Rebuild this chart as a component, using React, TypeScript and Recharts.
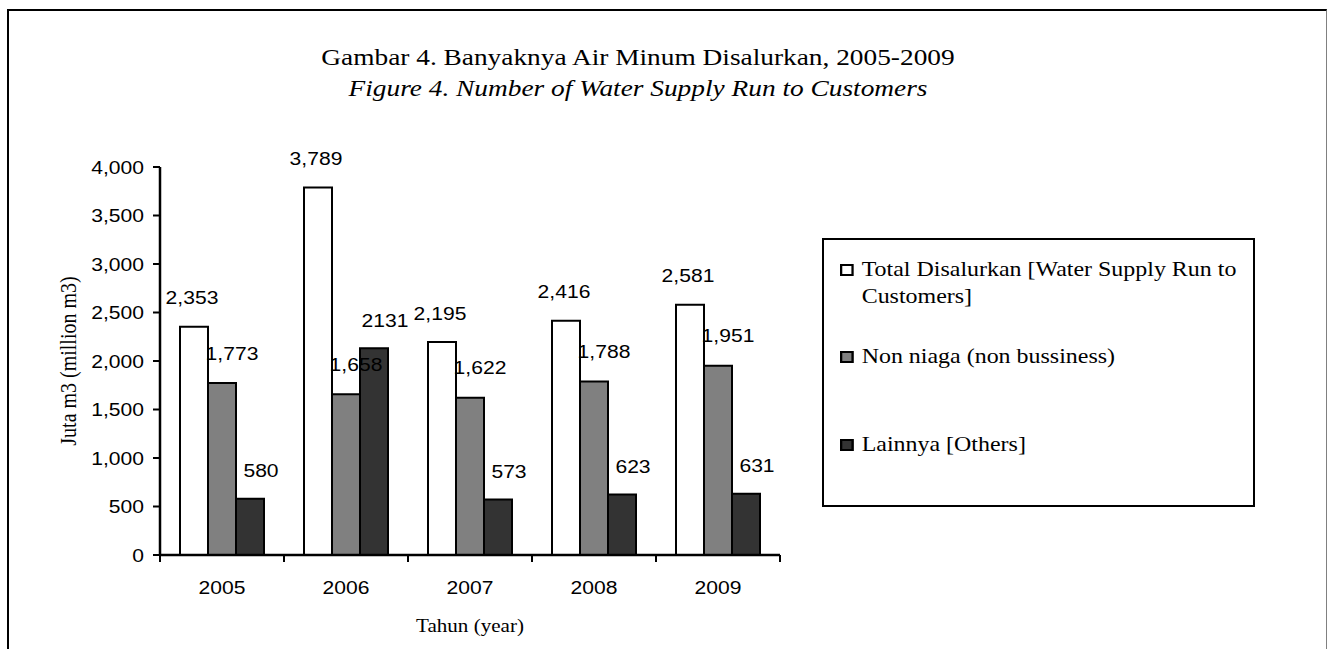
import React from 'react';
import { BarChart, Bar, XAxis, YAxis, Legend, LabelList } from 'recharts';

// ---- data ----
const years = ['2005', '2006', '2007', '2008', '2009'];
const totalSupply = [2353, 3789, 2195, 2416, 2581];
const nonBusiness = [1773, 1658, 1622, 1788, 1951];
const others = [580, 2131, 573, 623, 631];
const othersLabelText = ['580', '2131', '573', '623', '631'];
const yTicks = [0, 500, 1000, 1500, 2000, 2500, 3000, 3500, 4000];
const seriesNames = [
  'Total Disalurkan [Water Supply Run to Customers]',
  'Non niaga (non bussiness)',
  'Lainnya [Others]',
];
const titleLine1 = 'Gambar 4. Banyaknya Air Minum Disalurkan, 2005-2009';
const titleLine2 = 'Figure 4. Number of Water Supply Run to Customers';
const yAxisTitle = 'Juta m3 (million m3)';
const xAxisTitle = 'Tahun (year)';

// ---- styles ----
const SERIF = '"Liberation Serif", "Times New Roman", serif';
const SANS = '"Liberation Sans", Arial, sans-serif';
const SX = 1.14; // horizontal stretch of the reference's lettering
const FILLS = ['#ffffff', '#808080', '#333333'];
const PLOT_W = 620;
const BAND = PLOT_W / years.length;

const data = years.map((year, i) => ({
  year,
  total: totalSupply[i],
  non: nonBusiness[i],
  others: others[i],
}));

const fmt = (v: number) => Number(v).toLocaleString('en-US');

const YTick = (props: any) => {
  const { x, y, payload } = props;
  return (
    <text
      transform={`translate(${x},${y}) scale(${SX},1)`}
      textAnchor="end"
      dominantBaseline="central"
      fontFamily={SANS}
      fontSize={18.5}
      fill="#000"
    >
      {fmt(payload.value)}
    </text>
  );
};

const XTick = (props: any) => {
  const { x, y, payload, index, visibleTicksCount } = props;
  const half = BAND / 2;
  const isLast = index === (visibleTicksCount ?? years.length) - 1;
  return (
    <g>
      <line x1={x - half} x2={x - half} y1={y - 7} y2={y} stroke="#000" strokeWidth={2} />
      {isLast && <line x1={x + half} x2={x + half} y1={y - 7} y2={y} stroke="#000" strokeWidth={2} />}
      <text
        transform={`translate(${x},${y + 25}) scale(${SX},1)`}
        textAnchor="middle"
        dominantBaseline="central"
        fontFamily={SANS}
        fontSize={18.5}
        fill="#000"
      >
        {payload.value}
      </text>
    </g>
  );
};

const makeLabel = (dx: number, dy: number, texts?: string[]) => (props: any) => {
  const { x, y, width, value, index } = props;
  const cx = Number(x) + Number(width) / 2 + dx;
  const cy = Number(y) + dy;
  const txt = texts ? texts[index] : fmt(value);
  return (
    <text
      transform={`translate(${cx},${cy}) scale(${SX},1)`}
      textAnchor="middle"
      dominantBaseline="central"
      fontFamily={SANS}
      fontSize={18.5}
      fill="#000"
    >
      {txt}
    </text>
  );
};

const itemTops = [16, 103, 191];

const LegendBox = () => (
  <div
    style={{
      boxSizing: 'border-box',
      width: 433,
      height: 269,
      border: '2px solid #000',
      background: '#fff',
      position: 'relative',
      fontFamily: SERIF,
      fontSize: 21,
      lineHeight: '27px',
      color: '#000',
      textAlign: 'left',
    }}
  >
    {seriesNames.map((name, i) => (
      <div
        key={name}
        style={{
          position: 'absolute',
          left: 16,
          top: itemTops[i],
          display: 'flex',
          alignItems: 'flex-start',
          transform: `scaleX(${SX})`,
          transformOrigin: 'left top',
        }}
      >
        <span
          style={{
            boxSizing: 'border-box',
            width: 12,
            height: 12,
            border: '2px solid #000',
            background: FILLS[i],
            marginTop: 8,
            marginRight: 7,
            flex: 'none',
          }}
        />
        <span style={{ width: 340 }}>{name}</span>
      </div>
    ))}
  </div>
);

export default function App() {
  return (
    <div style={{ position: 'absolute', left: 0, top: 0, width: 1327, height: 649, overflow: 'hidden', background: '#fff' }}>
      {/* outer frame */}
      <div
        style={{
          position: 'absolute',
          left: 7,
          top: 9,
          width: 1320,
          height: 640,
          boxSizing: 'border-box',
          borderTop: '2px solid #000',
          borderLeft: '2.5px solid #000',
          borderRight: '1.5px solid #808080',
        }}
      />
      {/* title */}
      <svg style={{ position: 'absolute', left: 0, top: 0 }} width={1327} height={120}>
        <text transform={`translate(638,65) scale(${SX},1)`} textAnchor="middle" fontFamily={SERIF} fontSize={24} fill="#000">
          {titleLine1}
        </text>
        <text transform={`translate(638,96) scale(${SX},1)`} textAnchor="middle" fontFamily={SERIF} fontSize={24} fontStyle="italic" fill="#000">
          {titleLine2}
        </text>
      </svg>
      <div style={{ position: 'absolute', left: 0, top: 0 }}>
        <BarChart
          width={1327}
          height={649}
          data={data}
          margin={{ top: 167, right: 547, bottom: 64, left: 100 }}
          barCategoryGap={20}
          barGap={0}
        >
          <XAxis
            xAxisId="top"
            orientation="top"
            dataKey="year"
            height={0}
            tick={false}
            tickLine={false}
            axisLine={{ stroke: '#808080', strokeWidth: 1.5 }}
          />
          <YAxis
            yAxisId="right"
            orientation="right"
            width={0}
            domain={[0, 4000]}
            tick={false}
            tickLine={false}
            axisLine={{ stroke: '#808080', strokeWidth: 1.5 }}
          />
          <XAxis
            dataKey="year"
            height={30}
            tickSize={7}
            tickMargin={0}
            tickLine={false}
            axisLine={{ stroke: '#000', strokeWidth: 2.5 }}
            tick={(p: any) => <XTick {...p} />}
            label={{
              content: (p: any) => {
                const vb = p.viewBox || {};
                return (
                  <text
                    transform={`translate(${vb.x + vb.width / 2},${vb.y + 77}) scale(${SX},1)`}
                    textAnchor="middle"
                    fontFamily={SERIF}
                    fontSize={18.5}
                    fill="#000"
                  >
                    {xAxisTitle}
                  </text>
                );
              },
            }}
          />
          <YAxis
            width={60}
            domain={[0, 4000]}
            ticks={yTicks}
            interval={0}
            tickSize={7}
            tickMargin={9}
            tickLine={{ stroke: '#000', strokeWidth: 2 }}
            axisLine={{ stroke: '#000', strokeWidth: 2.5 }}
            tick={(p: any) => <YTick {...p} />}
            label={{
              content: (p: any) => {
                const vb = p.viewBox || {};
                return (
                  <text
                    transform={`translate(${vb.x - 31},${vb.y + vb.height / 2}) scale(${SX},1) rotate(-90)`}
                    textAnchor="middle"
                    dominantBaseline="central"
                    fontFamily={SERIF}
                    fontSize={20}
                    fill="#000"
                  >
                    {yAxisTitle}
                  </text>
                );
              },
            }}
          />
          <Legend
            layout="vertical"
            align="center"
            verticalAlign="middle"
            wrapperStyle={{ left: 822, top: 238, width: 433, height: 269 }}
            content={() => <LegendBox />}
          />
          <Bar dataKey="total" name={seriesNames[0]} fill={FILLS[0]} stroke="#000" strokeWidth={2} isAnimationActive={false}>
            <LabelList dataKey="total" content={makeLabel(-2, -29)} />
          </Bar>
          <Bar dataKey="non" name={seriesNames[1]} fill={FILLS[1]} stroke="#000" strokeWidth={2} isAnimationActive={false}>
            <LabelList dataKey="non" content={makeLabel(10, -30)} />
          </Bar>
          <Bar dataKey="others" name={seriesNames[2]} fill={FILLS[2]} stroke="#000" strokeWidth={2} isAnimationActive={false}>
            <LabelList dataKey="others" content={makeLabel(11, -28, othersLabelText)} />
          </Bar>
        </BarChart>
      </div>
    </div>
  );
}
